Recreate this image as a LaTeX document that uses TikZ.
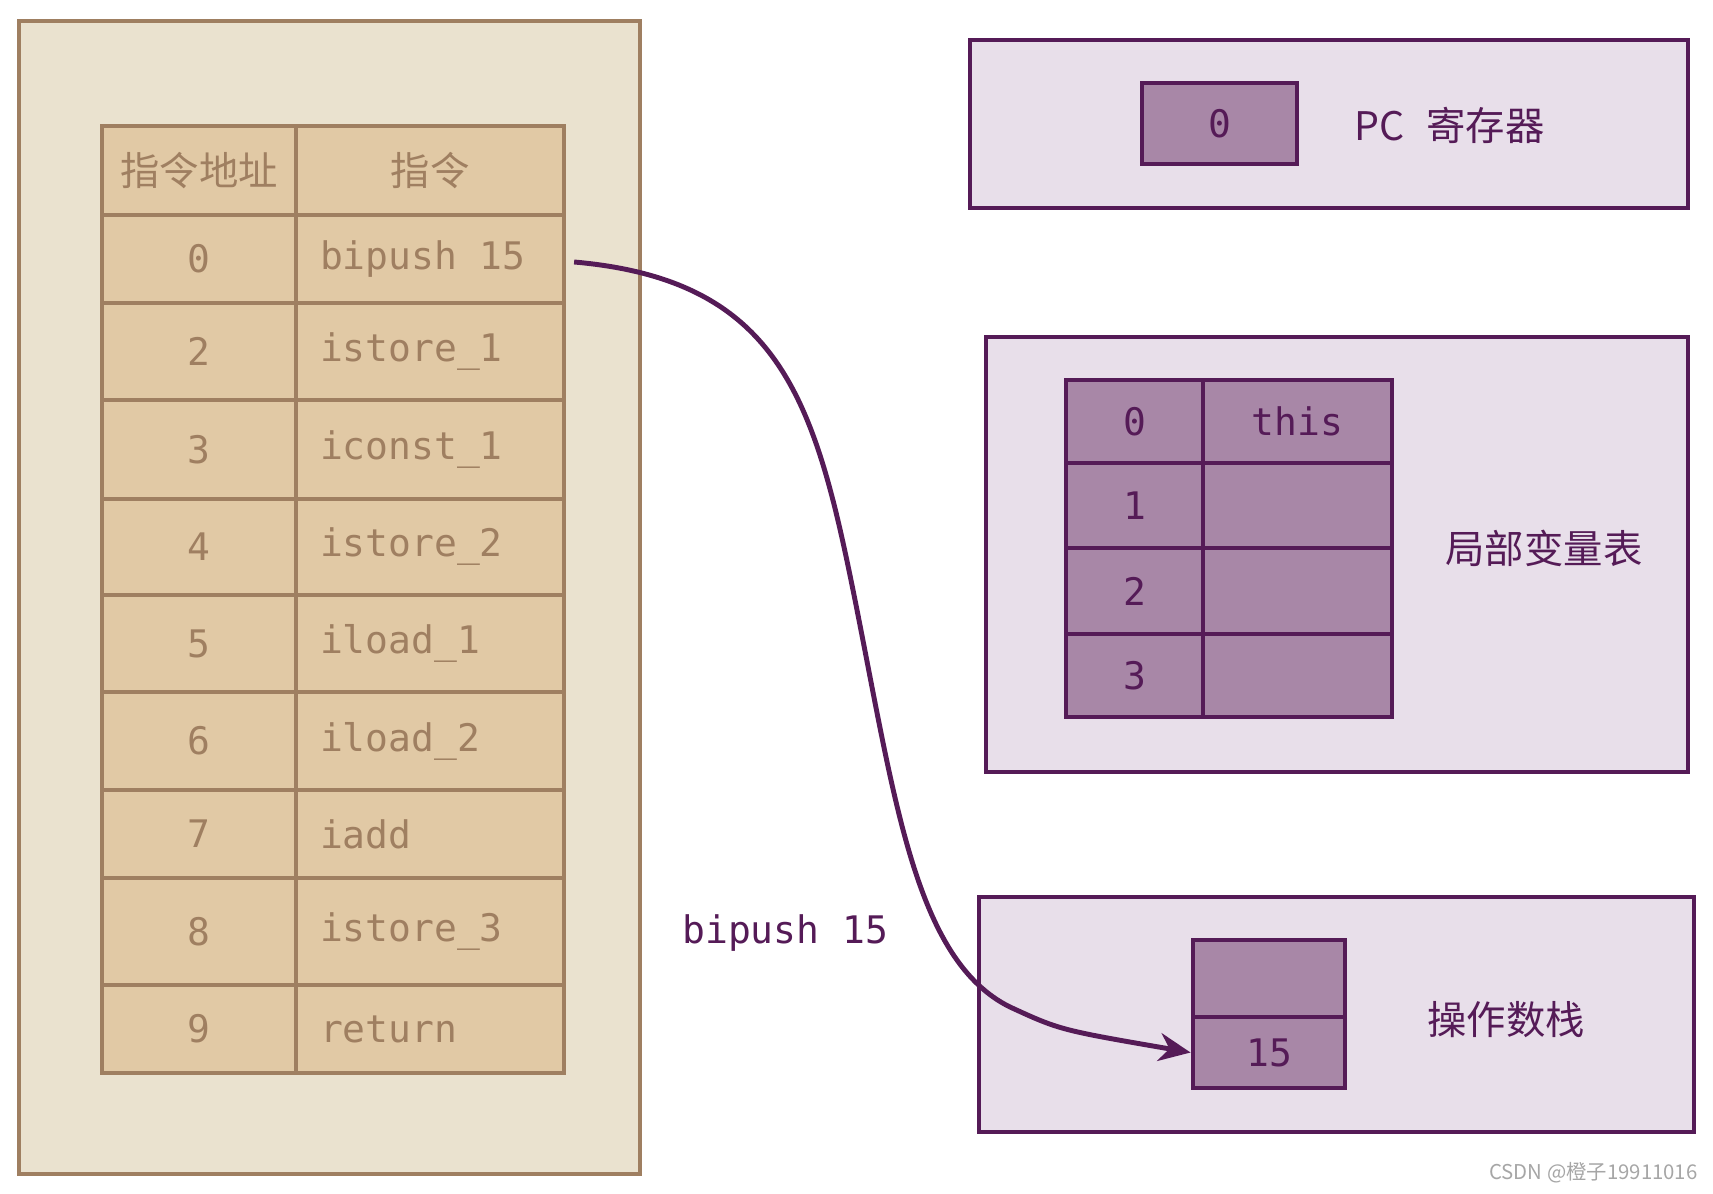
\documentclass[tikz,border=0pt]{standalone}
\usepackage{fontspec}
\setmonofont{DejaVu Sans Mono}
\newfontfamily\cjk{Noto Sans CJK SC}
\usepackage{tikz}
\usetikzlibrary{arrows.meta,positioning}
\definecolor{paper}{HTML}{EAE2CF}
\definecolor{tan}{HTML}{E1C9A5}
\definecolor{bark}{HTML}{9F7F61}
\definecolor{lilac}{HTML}{E8DFEA}
\definecolor{plum}{HTML}{A887A7}
\definecolor{darkplum}{HTML}{551B57}
\newcommand{\codefont}{\fontsize{10.8}{12}\selectfont\ttfamily}
\newcommand{\hanfont}{\fontsize{11.2}{13}\selectfont\cjk}
\tikzset{
    % 左侧指令表格的格子
    tancell/.style={
        draw=bark, fill=tan, line width=1.2pt,
        text=bark, font=\codefont, inner sep=0pt
    },
    % 右侧栈帧里的格子
    plumcell/.style={
        draw=darkplum, fill=plum, line width=1.4pt,
        text=darkplum, font=\codefont, inner sep=0pt
    },
    % 右侧外框
    plumbox/.style={draw=darkplum, fill=lilac, line width=1.3pt},
    plumarrow/.style={
        line width=1.4pt,
        darkplum,
        ->,
        >={Stealth[length=9pt, width=8pt]}
    }
}

\begin{document}
\begin{tikzpicture}
\useasboundingbox (0,0) rectangle (17.13,-11.93);

% ===================== 左侧：字节码指令 =====================
\draw[line width=1.3pt, draw=bark, fill=paper] (0.19,-0.21) rectangle (6.40,-11.74);

\node[tancell, minimum width=1.94cm, minimum height=0.89cm, font=\hanfont] (addrhead) at (1.99,-1.705) {指令地址};
\node[tancell, minimum width=2.68cm, minimum height=0.89cm, font=\hanfont] (inshead) at (4.30,-1.705) {指令};

\foreach \a/\ins/\yt/\yb in {0/bipush 15/2.15/3.03, 2/istore\_1/3.03/4.00, 3/iconst\_1/4.00/4.99,
    4/istore\_2/4.99/5.95, 5/iload\_1/5.95/6.92, 6/iload\_2/6.92/7.90, 7/iadd/7.90/8.78,
    8/istore\_3/8.78/9.85, 9/return/9.85/10.73}
{
    \node[tancell, minimum width=1.94cm, minimum height={(\yb-\yt)*1cm}] (addr\a) at (1.99,{-(\yt+\yb)/2}) {\a};
    \node[tancell, minimum width=2.68cm, minimum height={(\yb-\yt)*1cm}] (ins\a) at (4.30,{-(\yt+\yb)/2}) {\makebox[2.20cm][l]{\ins}};
}

% ===================== 右上：PC 寄存器 =====================
\draw[plumbox] (9.70,-0.40) rectangle (16.88,-2.08);
\node[plumcell, minimum width=1.55cm, minimum height=0.81cm] (pc) at (12.195,-1.235) {0};
\node[text=darkplum, font=\hanfont, anchor=west] (pclabel) at (13.42,-1.25) {PC\hspace{0.22cm}寄存器};

% ===================== 右中：局部变量表 =====================
\draw[plumbox] (9.86,-3.37) rectangle (16.88,-7.72);
\foreach \i/\v/\yt/\yb in {0/this/3.80/4.63, 1//4.63/5.48, 2//5.48/6.34, 3//6.34/7.17}
{
    \node[plumcell, minimum width=1.37cm, minimum height={(\yb-\yt)*1cm}] (lv\i) at (11.345,{-(\yt+\yb)/2}) {\i};
    \node[plumcell, minimum width=1.89cm, minimum height={(\yb-\yt)*1cm}] (lvv\i) at (12.975,{-(\yt+\yb)/2}) {\v};
}
\node[text=darkplum, font=\hanfont] (lvlabel) at (15.44,-5.48) {局部变量表};

% ===================== 右下：操作数栈 =====================
\draw[plumbox] (9.79,-8.97) rectangle (16.94,-11.32);
\node[plumcell, minimum width=1.52cm, minimum height=0.77cm] (stk0) at (12.69,-9.785) {};
\node[plumcell, minimum width=1.52cm, minimum height=0.71cm] (stk1) at (12.69,-10.525) {15};
\node[text=darkplum, font=\hanfont] (oplabel) at (15.06,-10.20) {操作数栈};

% bipush 15 把 15 压入操作数栈
\node[text=darkplum, font=\codefont, anchor=west] (pushlabel) at (6.70,-9.33) {bipush 15};
\draw[plumarrow] ([xshift=0.08cm, yshift=-0.03cm]ins0.east)
    .. controls (7.80,-2.80) and (8.15,-4.00) .. (8.55,-6.00)
    .. controls (8.95,-8.00) and (9.15,-9.60) .. (10.10,-10.07)
    .. controls (10.60,-10.30) .. (stk1.west);

\node[text=gray!70, font=\fontsize{5.8}{7}\selectfont\cjk, anchor=east] (mark) at (17.10,-11.73) {CSDN @橙子19911016};
\end{tikzpicture}
\end{document}
